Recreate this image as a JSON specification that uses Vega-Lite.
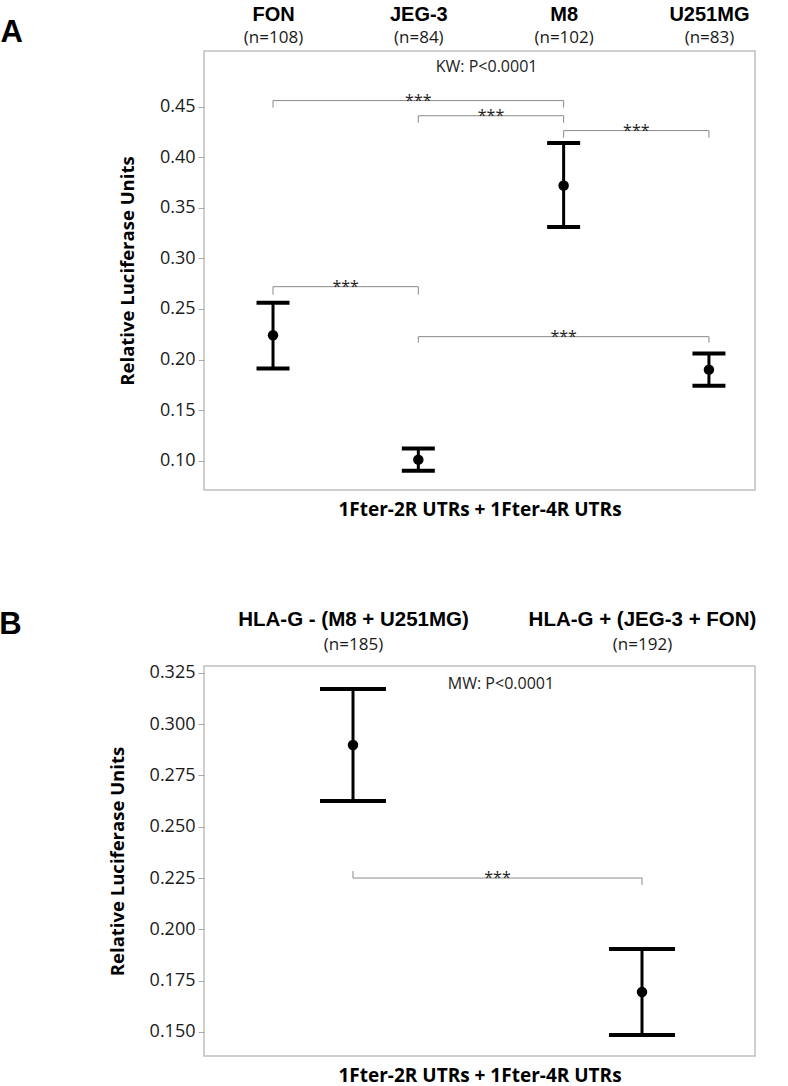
{
  "$schema": "https://vega.github.io/schema/vega-lite/v6.json",
  "padding": {"left": -2, "top": 3, "right": 5, "bottom": 5},
  "background": "white",
  "config": {
    "view": {"stroke": "#c0c0c0", "strokeWidth": 1.5},
    "axis": {"grid": false}
  },
  "datasets": {
    "cellsA": [
      {"cell": "FON", "n": 108, "pos": 1, "mean": 0.224, "lo": 0.191, "hi": 0.256},
      {"cell": "JEG-3", "n": 84, "pos": 2, "mean": 0.101, "lo": 0.090, "hi": 0.112},
      {"cell": "M8", "n": 102, "pos": 3, "mean": 0.372, "lo": 0.331, "hi": 0.414},
      {"cell": "U251MG", "n": 83, "pos": 4, "mean": 0.190, "lo": 0.174, "hi": 0.206}
    ],
    "bracketsA": [
      {"from": 1, "to": 3, "mid": 2, "y": 0.456, "yl": 0.449, "yr": 0.449, "stars": "***"},
      {"from": 2, "to": 3, "mid": 2.5, "y": 0.441, "yl": 0.434, "yr": 0.434, "stars": "***"},
      {"from": 3, "to": 4, "mid": 3.5, "y": 0.4263, "yl": 0.4193, "yr": 0.4193, "stars": "***"},
      {"from": 1, "to": 2, "mid": 1.5, "y": 0.272, "yl": 0.264, "yr": 0.264, "stars": "***"},
      {"from": 2, "to": 4, "mid": 3, "y": 0.2226, "yl": 0.2167, "yr": 0.2167, "stars": "***"}
    ],
    "noteA": [{"text": "KW: P<0.0001", "x": 2.47, "y": 0.489}],
    "cellsB": [
      {"cell": "HLA-G - (M8 + U251MG)", "n": 185, "pos": 1, "mean": 0.2898, "lo": 0.2625, "hi": 0.3171},
      {"cell": "HLA-G + (JEG-3 + FON)", "n": 192, "pos": 2, "mean": 0.1695, "lo": 0.1485, "hi": 0.1904}
    ],
    "bracketsB": [
      {"from": 1, "to": 2, "mid": 1.5, "y": 0.225, "yl": 0.2284, "yr": 0.2216, "stars": "***"}
    ],
    "noteB": [{"text": "MW: P<0.0001", "x": 1.512, "y": 0.3195}]
  },
  "concat": [
    {
      "width": 551,
      "height": 439,
      "title": {"text": "A", "orient": "left", "anchor": "end", "frame": "group", "angle": 0, "align": "right", "baseline": "alphabetic", "font": "Liberation Sans", "fontSize": 31, "fontWeight": "bold", "color": "black", "dy": -9, "offset": 73},
      "resolve": {"axis": {"x": "independent"}},
      "layer": [
        {
          "data": {"name": "cellsA"},
          "mark": {"type": "rule", "color": "black", "strokeWidth": 3},
          "encoding": {
            "x": {"field": "pos", "type": "quantitative", "scale": {"domain": [0.525, 4.317], "nice": false, "zero": false},
                  "axis": {"orient": "top", "values": [1, 2, 3, 4], "labelExpr": "['FON','JEG-3','M8','U251MG'][datum.value-1]", "labelFont": "Liberation Sans", "labelFontWeight": "bold", "labelFontSize": 20, "labelColor": "black", "labelBaseline": "alphabetic", "labelPadding": 31, "labelLimit": 0, "ticks": false, "tickSize": 0, "domain": false, "title": null, "labelFlush": false, "labelOverlap": false}},
            "y": {"field": "lo", "type": "quantitative", "title": "Relative Luciferase Units", "scale": {"domain": [0.071, 0.505], "nice": false, "zero": false},
                  "axis": {"values": [0.10, 0.15, 0.20, 0.25, 0.30, 0.35, 0.40, 0.45], "format": ".2f", "labelFont": "Open Sans", "labelFontSize": 18, "labelColor": "#1a1a1a", "labelPadding": 3, "tickSize": 6, "tickColor": "#a8a8a8", "domain": false, "titleFont": "Open Sans", "titleFontSize": 18.5, "titleFontWeight": "bold", "titleColor": "black", "titlePadding": 22}},
            "y2": {"field": "hi"}
          }
        },
        {
          "data": {"name": "cellsA"},
          "mark": {"type": "tick", "orient": "horizontal", "color": "black", "thickness": 4, "size": 33, "opacity": 1},
          "encoding": {
            "x": {"field": "pos", "type": "quantitative",
                  "axis": {"orient": "top", "values": [1, 2, 3, 4], "labelExpr": "['(n=108)','(n=84)','(n=102)','(n=83)'][datum.value-1]", "labelFont": "Open Sans", "labelFontSize": 17, "labelColor": "#1a1a1a", "labelBaseline": "alphabetic", "labelPadding": 9, "labelLimit": 0, "ticks": false, "tickSize": 0, "domain": false, "title": null, "labelFlush": false, "labelOverlap": false}},
            "y": {"field": "hi", "type": "quantitative", "title": "Relative Luciferase Units"}
          }
        },
        {
          "data": {"name": "cellsA"},
          "mark": {"type": "tick", "orient": "horizontal", "color": "black", "thickness": 4, "size": 33, "opacity": 1},
          "encoding": {
            "x": {"field": "pos", "type": "quantitative",
                  "axis": {"orient": "bottom", "labels": false, "ticks": false, "domain": false, "title": "1Fter-2R UTRs + 1Fter-4R UTRs", "titleFont": "Open Sans", "titleFontSize": 19, "titleFontWeight": "bold", "titleColor": "black", "titlePadding": 10}},
            "y": {"field": "lo", "type": "quantitative", "title": "Relative Luciferase Units"}
          }
        },
        {
          "data": {"name": "cellsA"},
          "mark": {"type": "point", "filled": true, "color": "black", "size": 110, "opacity": 1},
          "encoding": {
            "x": {"field": "pos", "type": "quantitative", "axis": null},
            "y": {"field": "mean", "type": "quantitative", "title": "Relative Luciferase Units"}
          }
        },
        {
          "data": {"name": "bracketsA"},
          "mark": {"type": "rule", "color": "#8a8a8a", "strokeWidth": 1},
          "encoding": {
            "x": {"field": "from", "type": "quantitative", "axis": null},
            "x2": {"field": "to"},
            "y": {"field": "y", "type": "quantitative", "title": "Relative Luciferase Units"}
          }
        },
        {
          "data": {"name": "bracketsA"},
          "mark": {"type": "rule", "color": "#8a8a8a", "strokeWidth": 1},
          "encoding": {
            "x": {"field": "from", "type": "quantitative", "axis": null},
            "y": {"field": "y", "type": "quantitative", "title": "Relative Luciferase Units"},
            "y2": {"field": "yl"}
          }
        },
        {
          "data": {"name": "bracketsA"},
          "mark": {"type": "rule", "color": "#8a8a8a", "strokeWidth": 1},
          "encoding": {
            "x": {"field": "to", "type": "quantitative", "axis": null},
            "y": {"field": "y", "type": "quantitative", "title": "Relative Luciferase Units"},
            "y2": {"field": "yr"}
          }
        },
        {
          "data": {"name": "bracketsA"},
          "mark": {"type": "text", "font": "Open Sans", "fontSize": 16, "color": "#222222", "baseline": "middle", "align": "center"},
          "encoding": {
            "x": {"field": "mid", "type": "quantitative", "axis": null},
            "y": {"field": "y", "type": "quantitative", "title": "Relative Luciferase Units"},
            "text": {"field": "stars"}
          }
        },
        {
          "data": {"name": "noteA"},
          "mark": {"type": "text", "font": "Open Sans", "fontSize": 16, "color": "#222222", "baseline": "middle", "align": "center"},
          "encoding": {
            "x": {"field": "x", "type": "quantitative", "axis": null},
            "y": {"field": "y", "type": "quantitative", "title": "Relative Luciferase Units"},
            "text": {"field": "text"}
          }
        }
      ]
    },
    {
      "width": 551,
      "height": 390,
      "title": {"text": "B", "orient": "left", "anchor": "end", "frame": "group", "angle": 0, "align": "right", "baseline": "alphabetic", "font": "Liberation Sans", "fontSize": 31, "fontWeight": "bold", "color": "black", "dy": -32, "offset": 64},
      "resolve": {"axis": {"x": "independent"}},
      "layer": [
        {
          "data": {"name": "cellsB"},
          "mark": {"type": "rule", "color": "black", "strokeWidth": 3},
          "encoding": {
            "x": {"field": "pos", "type": "quantitative", "scale": {"domain": [0.4844, 2.391], "nice": false, "zero": false},
                  "axis": {"orient": "top", "values": [1, 2], "labelExpr": "['HLA-G - (M8 + U251MG)','HLA-G + (JEG-3 + FON)'][datum.value-1]", "labelFont": "Liberation Sans", "labelFontWeight": "bold", "labelFontSize": 20.5, "labelColor": "black", "labelBaseline": "alphabetic", "labelPadding": 41, "labelLimit": 0, "ticks": false, "tickSize": 0, "domain": false, "title": null, "labelFlush": false, "labelOverlap": false}},
            "y": {"field": "lo", "type": "quantitative", "title": "Relative Luciferase Units", "scale": {"domain": [0.1383, 0.3283], "nice": false, "zero": false},
                  "axis": {"values": [0.150, 0.175, 0.200, 0.225, 0.250, 0.275, 0.300, 0.325], "format": ".3f", "labelFont": "Open Sans", "labelFontSize": 18, "labelColor": "#1a1a1a", "labelPadding": 3, "tickSize": 6, "tickColor": "#a8a8a8", "domain": false, "titleFont": "Open Sans", "titleFontSize": 18.5, "titleFontWeight": "bold", "titleColor": "black", "titlePadding": 22}},
            "y2": {"field": "hi"}
          }
        },
        {
          "data": {"name": "cellsB"},
          "mark": {"type": "tick", "orient": "horizontal", "color": "black", "thickness": 4, "size": 66, "opacity": 1},
          "encoding": {
            "x": {"field": "pos", "type": "quantitative",
                  "axis": {"orient": "top", "values": [1, 2], "labelExpr": "['(n=185)','(n=192)'][datum.value-1]", "labelFont": "Open Sans", "labelFontSize": 17, "labelColor": "#1a1a1a", "labelBaseline": "alphabetic", "labelPadding": 17, "labelLimit": 0, "ticks": false, "tickSize": 0, "domain": false, "title": null, "labelFlush": false, "labelOverlap": false}},
            "y": {"field": "hi", "type": "quantitative", "title": "Relative Luciferase Units"}
          }
        },
        {
          "data": {"name": "cellsB"},
          "mark": {"type": "tick", "orient": "horizontal", "color": "black", "thickness": 4, "size": 66, "opacity": 1},
          "encoding": {
            "x": {"field": "pos", "type": "quantitative",
                  "axis": {"orient": "bottom", "labels": false, "ticks": false, "domain": false, "title": "1Fter-2R UTRs + 1Fter-4R UTRs", "titleFont": "Open Sans", "titleFontSize": 19, "titleFontWeight": "bold", "titleColor": "black", "titlePadding": 10}},
            "y": {"field": "lo", "type": "quantitative", "title": "Relative Luciferase Units"}
          }
        },
        {
          "data": {"name": "cellsB"},
          "mark": {"type": "point", "filled": true, "color": "black", "size": 110, "opacity": 1},
          "encoding": {
            "x": {"field": "pos", "type": "quantitative", "axis": null},
            "y": {"field": "mean", "type": "quantitative", "title": "Relative Luciferase Units"}
          }
        },
        {
          "data": {"name": "bracketsB"},
          "mark": {"type": "rule", "color": "#8a8a8a", "strokeWidth": 1},
          "encoding": {
            "x": {"field": "from", "type": "quantitative", "axis": null},
            "x2": {"field": "to"},
            "y": {"field": "y", "type": "quantitative", "title": "Relative Luciferase Units"}
          }
        },
        {
          "data": {"name": "bracketsB"},
          "mark": {"type": "rule", "color": "#8a8a8a", "strokeWidth": 1},
          "encoding": {
            "x": {"field": "from", "type": "quantitative", "axis": null},
            "y": {"field": "y", "type": "quantitative", "title": "Relative Luciferase Units"},
            "y2": {"field": "yl"}
          }
        },
        {
          "data": {"name": "bracketsB"},
          "mark": {"type": "rule", "color": "#8a8a8a", "strokeWidth": 1},
          "encoding": {
            "x": {"field": "to", "type": "quantitative", "axis": null},
            "y": {"field": "y", "type": "quantitative", "title": "Relative Luciferase Units"},
            "y2": {"field": "yr"}
          }
        },
        {
          "data": {"name": "bracketsB"},
          "mark": {"type": "text", "font": "Open Sans", "fontSize": 16, "color": "#222222", "baseline": "middle", "align": "center"},
          "encoding": {
            "x": {"field": "mid", "type": "quantitative", "axis": null},
            "y": {"field": "y", "type": "quantitative", "title": "Relative Luciferase Units"},
            "text": {"field": "stars"}
          }
        },
        {
          "data": {"name": "noteB"},
          "mark": {"type": "text", "font": "Open Sans", "fontSize": 16, "color": "#222222", "baseline": "middle", "align": "center"},
          "encoding": {
            "x": {"field": "x", "type": "quantitative", "axis": null},
            "y": {"field": "y", "type": "quantitative", "title": "Relative Luciferase Units"},
            "text": {"field": "text"}
          }
        }
      ]
    }
  ],
  "columns": 1,
  "align": "none",
  "spacing": 88
}
